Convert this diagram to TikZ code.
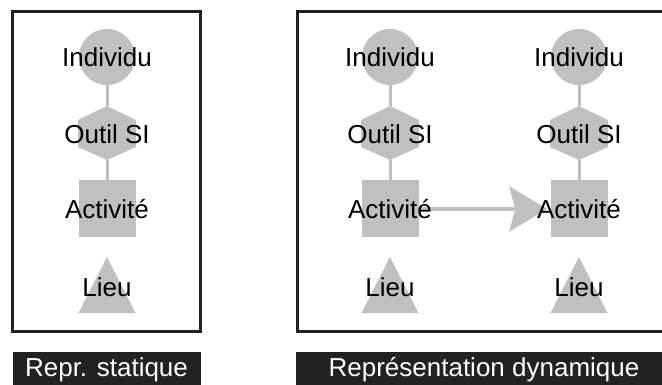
\documentclass[tikz,border=0pt]{standalone}
\usepackage{fontspec}
\setsansfont{Liberation Sans}
\usepackage{xcolor}
\usetikzlibrary{arrows.meta, backgrounds}

\definecolor{forme}{HTML}{C0C0C0}
\definecolor{sombre}{HTML}{222222}

\begin{document}
\begin{tikzpicture}[x=1pt, y=-1pt,
        disque/.style={circle, fill=forme, minimum size=56pt, inner sep=0pt},
        carre/.style={rectangle, fill=forme, minimum size=57pt, inner sep=0pt},
        texte/.style={inner sep=0pt},
        lien/.style={draw=forme, line width=3pt},
        fleche/.style={draw=forme, line width=3.5pt, -{Stealth[length=38pt, width=45pt, inset=6pt]}, shorten >=3pt},
        cadre/.style={draw=sombre, line width=3pt},
        titre/.style={fill=sombre, text=white, text height=19pt, text depth=6pt, inner xsep=0pt, inner ysep=5pt, anchor=base}]
        \tikzstyle{every node}=[font=\sffamily\fontsize{26}{30}\selectfont]
        \useasboundingbox (0,0) rectangle (662,385);

        % Frames
        \draw[cadre] (12.5,12) rectangle (200.5,331);
        \draw[cadre] (297,12) rectangle (666,331);

        % Columns: 1 = static, 2 and 3 = dynamic
        \foreach \cx/\n in {107/1, 390/2, 579/3} {
        \begin{scope}[xshift=\cx pt]
            % Individu
            \node[disque, label=center:Individu] (ind\n) at (0,57) {};

            % Outil SI
            \fill[forme] (0,106) -- (29,120) -- (29,147) -- (0,160) -- (-29,147) -- (-29,120) -- cycle;
            \node[texte] (out\n) at (0,134) {Outil SI};
            \coordinate (outN\n) at (0,106);
            \coordinate (outS\n) at (0,160);

            % Activite
            \node[carre, label=center:Activité] (act\n) at (0,209) {};

            % Lieu
            \fill[forme] (0,257) -- (28.5,313) -- (-28.5,313) -- cycle;
            \node[texte] (lieu\n) at (0,287) {Lieu};

            \begin{scope}[on background layer]
                \draw[lien] (ind\n) -- (outN\n);
                \draw[lien] (outS\n) -- (act\n);
            \end{scope}
        \end{scope}
        }

        % Time step
        \begin{scope}[on background layer]
            \draw[fleche] (act2) -- (act3);
        \end{scope}

        % Titles
        \node[titre, minimum width=188pt] (statique) at (106.5,376) {Repr. statique};
        \node[titre, minimum width=376pt] (dynamique) at (484,376) {Représentation dynamique};
\end{tikzpicture}
\end{document}
